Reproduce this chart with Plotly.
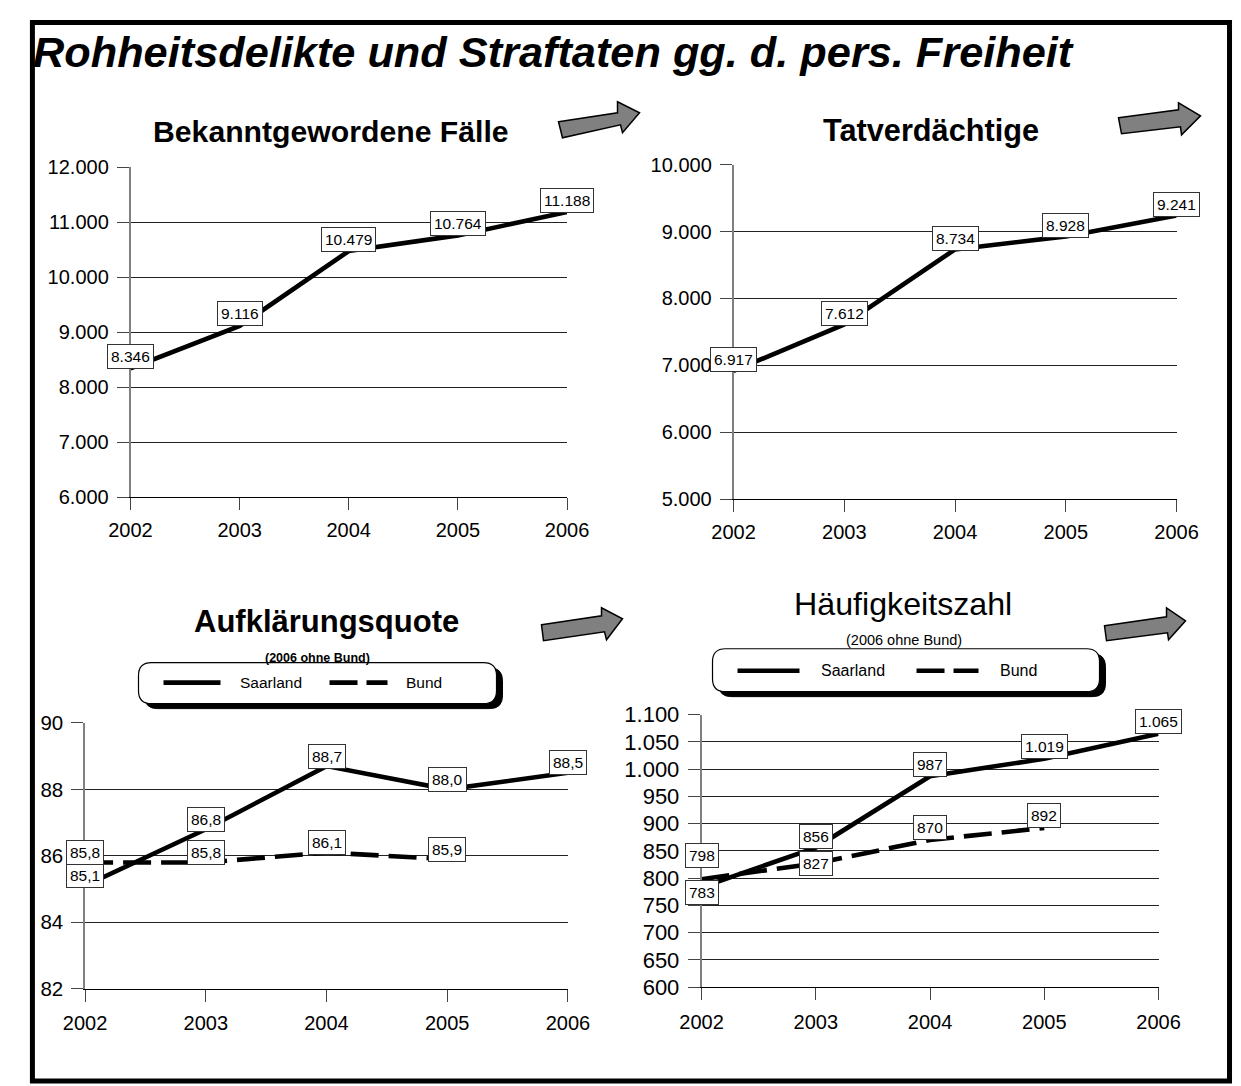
import plotly.graph_objects as go

# Geometry below is measured in the reference picture's pixel space (1241 x 1086).
# The photographed page shows the figure scaled/offset; map reference pixels -> figure pixels.
AX, BX = 0.9647, 29.5
AY, BY = 0.979, 20.0
W, H = 1247, 1089

# ---------------- data ----------------
years = [2002, 2003, 2004, 2005, 2006]
faelle = [8346, 9116, 10479, 10764, 11188]
tatverdaechtige = [6917, 7612, 8734, 8928, 9241]
aq_saarland = [85.1, 86.8, 88.7, 88.0, 88.5]
aq_bund = [85.8, 85.8, 86.1, 85.9]
hz_saarland = [783, 856, 987, 1019, 1065]
hz_bund = [798, 827, 870, 892]

main_title = "Rohheitsdelikte und Straftaten gg. d. pers. Freiheit"
panel_titles = ["Bekanntgewordene Fälle", "Tatverdächtige", "Aufklärungsquote", "Häufigkeitszahl"]
subtitle = "(2006 ohne Bund)"
series_names = ["Saarland", "Bund"]

FONT = "Liberation Sans, Arial, sans-serif"


def fx(r):
    x = (r - BX) / AX
    return min(max(x, 0.0), W) / W


def fy(r):
    y = (r - BY) / AY
    return 1 - min(max(y, 0.0), H) / H


def de_int(v):
    return f"{v:,}".replace(",", ".")


def de_dec(v):
    return f"{v:.1f}".replace(".", ",")


fig = go.Figure()

# ---------------- axes ----------------
panels = [
    dict(xpx=(130, 566.5), ypx=(498.3, 167.7), yr=(6000, 12000), dt=1000, yfs=20),
    dict(xpx=(733, 1176), ypx=(500, 165), yr=(5000, 10000), dt=1000, yfs=20),
    dict(xpx=(84.6, 567.4), ypx=(990.7, 724.3), yr=(82, 90), dt=2, yfs=20.5),
    dict(xpx=(701, 1158), ypx=(989, 716), yr=(600, 1100), dt=50, yfs=22),
]
xlabel_standoff = [3, 3, 4, 5]

layout_axes = {}
for i, p in enumerate(panels, start=1):
    sx = "" if i == 1 else str(i)
    layout_axes["xaxis" + sx] = dict(
        domain=[fx(p["xpx"][0]), fx(p["xpx"][1])],
        range=[2002, 2006],
        anchor="y" + sx,
        tickmode="array",
        tickvals=years,
        ticktext=[str(y) for y in years],
        ticks="outside",
        ticklen=12,
        tickwidth=1,
        tickcolor="#444444",
        showgrid=False,
        zeroline=False,
        showline=True,
        linecolor="black",
        linewidth=1,
        tickfont=dict(family=FONT, size=20, color="black"),
        ticklabelstandoff=xlabel_standoff[i - 1],
        fixedrange=True,
    )
    layout_axes["yaxis" + sx] = dict(
        domain=[fy(p["ypx"][0]), fy(p["ypx"][1])],
        range=list(p["yr"]),
        anchor="x" + sx,
        dtick=p["dt"],
        tick0=p["yr"][0],
        tickformat=",d",
        ticks="outside",
        ticklen=12,
        tickwidth=1,
        tickcolor="#444444",
        showgrid=True,
        gridcolor="#222222",
        gridwidth=1,
        zeroline=False,
        showline=True,
        linecolor="#808080",
        linewidth=1.5,
        tickfont=dict(family=FONT, size=p["yfs"], color="black"),
        ticklabelstandoff=4,
        fixedrange=True,
    )

# ---------------- traces ----------------
solid = dict(color="black", width=4.6)
dashed = dict(color="black", width=4.6, dash="28px,10px")

fig.add_trace(go.Scatter(x=years, y=faelle, mode="lines", line=solid, xaxis="x", yaxis="y",
                         name=series_names[0], showlegend=False, hoverinfo="skip"))
fig.add_trace(go.Scatter(x=years, y=tatverdaechtige, mode="lines", line=solid, xaxis="x2", yaxis="y2",
                         name=series_names[0], showlegend=False, hoverinfo="skip"))
fig.add_trace(go.Scatter(x=years[:len(aq_bund)], y=aq_bund, mode="lines", line=dashed, xaxis="x3", yaxis="y3",
                         name=series_names[1], showlegend=False, hoverinfo="skip"))
fig.add_trace(go.Scatter(x=years, y=aq_saarland, mode="lines", line=solid, xaxis="x3", yaxis="y3",
                         name=series_names[0], showlegend=False, hoverinfo="skip"))
fig.add_trace(go.Scatter(x=years[:len(hz_bund)], y=hz_bund, mode="lines", line=dashed, xaxis="x4", yaxis="y4",
                         name=series_names[1], showlegend=False, hoverinfo="skip"))
fig.add_trace(go.Scatter(x=years, y=hz_saarland, mode="lines", line=solid, xaxis="x4", yaxis="y4",
                         name=series_names[0], showlegend=False, hoverinfo="skip"))

# ---------------- data labels ----------------
annotations = []


def add_labels(xs, ys, fmt, xref, yref, shift, overrides=None):
    overrides = overrides or {}
    for x, v in zip(xs, ys):
        annotations.append(dict(
            x=x, y=v, xref=xref, yref=yref, text=fmt(v), showarrow=False,
            xanchor="center", yanchor="middle", yshift=overrides.get(x, shift),
            font=dict(family=FONT, size=15.5, color="black"),
            bgcolor="white", bordercolor="#333333", borderwidth=1, borderpad=3,
        ))


add_labels(years, faelle, de_int, "x", "y", 12)
add_labels(years, tatverdaechtige, de_int, "x2", "y2", 11)
add_labels(years, aq_saarland, de_dec, "x3", "y3", 10)
add_labels(years[:len(aq_bund)], aq_bund, de_dec, "x3", "y3", 10)
add_labels(years, hz_saarland, de_int, "x4", "y4", 12, {2002: -5, 2003: 11})
add_labels(years[:len(hz_bund)], hz_bund, de_int, "x4", "y4", 12, {2002: 24, 2003: 0})

# ---------------- titles ----------------
annotations.append(dict(
    x=fx(30), y=fy(52), xref="paper", yref="paper", xanchor="left", yanchor="middle",
    text=main_title, showarrow=False,
    font=dict(family=FONT, size=43.3, color="black", weight="bold", style="italic"),
))
title_pos = [(330, 132, True, 30.2), (930, 131, True, 30.7), (326, 623, True, 31), (902, 605, False, 32.2)]
for t, (cx, cy, bold, tfs) in zip(panel_titles, title_pos):
    annotations.append(dict(
        x=fx(cx), y=fy(cy), xref="paper", yref="paper", xanchor="center", yanchor="middle",
        text=t, showarrow=False,
        font=dict(family=FONT, size=tfs, color="black", weight="bold" if bold else "normal"),
    ))

annotations.append(dict(x=fx(317), y=fy(659), xref="paper", yref="paper", xanchor="center", yanchor="middle",
                        text=subtitle, showarrow=False,
                        font=dict(family=FONT, size=12.5, color="black", weight="bold")))
annotations.append(dict(x=fx(903), y=fy(641), xref="paper", yref="paper", xanchor="center", yanchor="middle",
                        text=subtitle, showarrow=False,
                        font=dict(family=FONT, size=14.5, color="black")))

# ---------------- shapes ----------------
shapes = []


def pt(x, y):
    return f"{fx(x):.5f},{fy(y):.5f}"


def poly_path(pts):
    return "M " + " L ".join(pt(x, y) for x, y in pts) + " Z"


def rr_path(x0, y0, x1, y1, r):
    s = f"M {pt(x0 + r, y0)} L {pt(x1 - r, y0)} Q {pt(x1, y0)} {pt(x1, y0 + r)} "
    s += f"L {pt(x1, y1 - r)} Q {pt(x1, y1)} {pt(x1 - r, y1)} "
    s += f"L {pt(x0 + r, y1)} Q {pt(x0, y1)} {pt(x0, y1 - r)} "
    s += f"L {pt(x0, y0 + r)} Q {pt(x0, y0)} {pt(x0 + r, y0)} Z"
    return s


arrows = [
    [(558, 122), (617, 113), (617, 102), (639, 113), (622, 133), (620, 125), (562, 138)],
    [(1118, 118), (1178, 110), (1178, 103), (1200, 116), (1181, 135), (1180, 127), (1121, 134)],
    [(541, 626), (601, 617), (601, 609), (622, 620), (606, 641), (604, 633), (543, 642)],
    [(1104, 627), (1166, 618), (1166, 609), (1185, 622), (1168, 641), (1167, 634), (1106, 642)],
]
for a in arrows:
    shapes.append(dict(type="path", xref="paper", yref="paper", path=poly_path(a),
                       fillcolor="#808080", line=dict(color="black", width=1.5), layer="above"))

legends = [
    dict(box=(138, 664, 496, 705), solid=(163, 220), dash=(329, 387), ly=684,
         t1=270, t2=423.5, fs=15.5),
    dict(box=(712, 650, 1099, 693), solid=(737, 799), dash=(916, 978), ly=672,
         t1=852.5, t2=1018, fs=16),
]
for lg in legends:
    x0, y0, x1, y1 = lg["box"]
    shapes.append(dict(type="path", xref="paper", yref="paper", path=rr_path(x0 + 6, y0 + 5, x1 + 6, y1 + 5, 13),
                       fillcolor="black", line=dict(color="black", width=1), layer="above"))
    shapes.append(dict(type="path", xref="paper", yref="paper", path=rr_path(x0, y0, x1, y1, 13),
                       fillcolor="white", line=dict(color="black", width=1.2), layer="above"))
    shapes.append(dict(type="line", xref="paper", yref="paper",
                       x0=fx(lg["solid"][0]), x1=fx(lg["solid"][1]), y0=fy(lg["ly"]), y1=fy(lg["ly"]),
                       line=dict(color="black", width=4.6), layer="above"))
    shapes.append(dict(type="line", xref="paper", yref="paper",
                       x0=fx(lg["dash"][0]), x1=fx(lg["dash"][1]), y0=fy(lg["ly"]), y1=fy(lg["ly"]),
                       line=dict(color="black", width=4.6, dash="28px,9px"), layer="above"))
    for name, tx in zip(series_names, (lg["t1"], lg["t2"])):
        annotations.append(dict(x=fx(tx), y=fy(lg["ly"]), xref="paper", yref="paper",
                                xanchor="center", yanchor="middle", text=name, showarrow=False,
                                font=dict(family=FONT, size=lg["fs"], color="black")))

# outer frame
shapes.append(dict(type="rect", xref="paper", yref="paper",
                   x0=2.5 / W, x1=fx(1229), y0=3 / H, y1=1 - 2.5 / H,
                   line=dict(color="black", width=5), fillcolor="rgba(0,0,0,0)", layer="above"))

fig.update_layout(
    width=W, height=H, autosize=False,
    margin=dict(l=0, r=0, t=0, b=0, pad=0),
    paper_bgcolor="white", plot_bgcolor="white",
    showlegend=False,
    separators=",.",
    font=dict(family=FONT, color="black"),
    annotations=annotations,
    shapes=shapes,
    **layout_axes,
)

fig.write_html("out.html", include_plotlyjs=True, config={"displayModeBar": False})
